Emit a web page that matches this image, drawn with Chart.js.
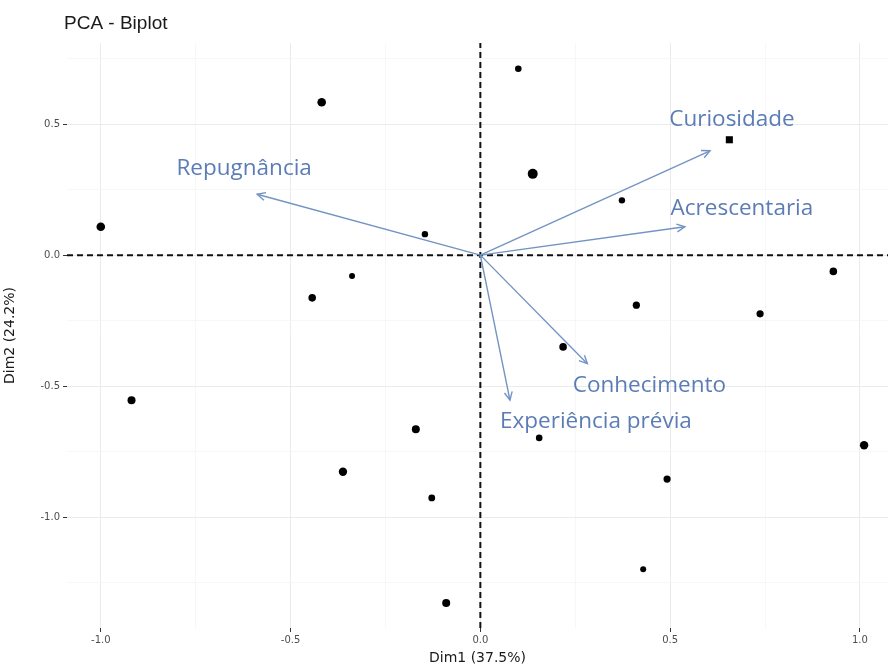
<!DOCTYPE html>
<html>
<head>
<meta charset="utf-8">
<title>PCA - Biplot</title>
<script src="https://cdn.jsdelivr.net/npm/chart.js@4/dist/chart.umd.min.js"></script>
<style>
  html, body { margin: 0; padding: 0; background: #ffffff; }
  #wrap { width: 893px; height: 669px; }
</style>
</head>
<body>
<div id="wrap"><canvas id="biplot" width="893" height="669"></canvas></div>
<script>
// Individuals: coordinates on the first two principal dimensions
const indDim1 = [-1.000, -0.418, -0.146, -0.338, -0.443, 0.100, 0.138, 0.373, 0.656, 0.930, 0.411,
                  0.737, -0.919, -0.170, -0.362, -0.128, -0.090, 0.218, 0.155, 1.011, 0.492, 0.429];
const indDim2 = [ 0.108,  0.583,  0.080, -0.080, -0.163, 0.711, 0.310, 0.209, 0.440, -0.062, -0.191,
                 -0.224, -0.553, -0.664, -0.826, -0.926, -1.327, -0.350, -0.697, -0.725, -0.854, -1.198];

// Variables: loadings drawn as arrows from the origin
const varNames = ['Curiosidade', 'Acrescentaria', 'Repugnância', 'Conhecimento', 'Experiência prévia'];
const varDim1  = [0.605, 0.539, -0.588, 0.282, 0.078];
const varDim2  = [0.398, 0.108,  0.232, -0.414, -0.553];

// Axis ticks (major ticks carry labels, minor ticks only a grid line)
const xTicks = [-1.0, -0.75, -0.5, -0.25, 0.0, 0.25, 0.5, 0.75, 1.0];
const yTicks = [-1.25, -1.0, -0.75, -0.5, -0.25, 0.0, 0.25, 0.5, 0.75];

const titleText  = 'PCA - Biplot';
const xAxisTitle = 'Dim1 (37.5%)';
const yAxisTitle = 'Dim2 (24.2%)';

// ---- styling ----
const X_MIN = -1.089, X_MAX = 1.074, Y_MIN = -1.422, Y_MAX = 0.809;
const ARROW_COLOR = '#7394c3';
const LABEL_COLOR = '#5b7cb6';
const isMajor = v => Math.abs(v * 2 - Math.round(v * 2)) < 1e-9;

// label placement relative to each arrow tip, in pixels
const labelNudge = [[22, -25], [57, -12], [-13, -19], [62, 28], [86, 28]];

const pointSizes = [4.3, 4.3, 3.2, 3.0, 3.8, 3.3, 5.0, 3.2, 5.0, 3.8, 3.6,
                    3.6, 4.0, 4.0, 4.2, 3.4, 4.0, 3.8, 3.3, 4.2, 3.6, 3.0];
const pointStyles = indDim1.map((_, i) => i === 8 ? 'rect' : 'circle');

const individuals = indDim1.map((x, i) => ({ x: x, y: indDim2[i] }));

const arrowSets = varNames.map((name, i) => ({
  type: 'line',
  label: name,
  data: [{ x: 0, y: 0 }, { x: varDim1[i], y: varDim2[i] }],
  borderColor: ARROW_COLOR,
  borderWidth: 1.4,
  pointRadius: 0,
  showLine: true,
  fill: false
}));

const refLines = [
  { type: 'line', label: 'h0', data: [{ x: X_MIN, y: 0 }, { x: X_MAX, y: 0 }] },
  { type: 'line', label: 'v0', data: [{ x: 0, y: Y_MIN }, { x: 0, y: Y_MAX }] }
].map(d => Object.assign(d, {
  borderColor: '#111111', borderWidth: 2, borderDash: [6, 4], pointRadius: 0, showLine: true, fill: false
}));

// arrowheads, variable names and the plot title
const biplotDecor = {
  id: 'biplotDecor',
  afterDatasetsDraw(chart) {
    const { ctx, scales: { x, y } } = chart;
    const ox = x.getPixelForValue(0), oy = y.getPixelForValue(0);
    ctx.save();
    varNames.forEach((name, i) => {
      const tx = x.getPixelForValue(varDim1[i]);
      const ty = y.getPixelForValue(varDim2[i]);
      const ang = Math.atan2(ty - oy, tx - ox);
      const len = 9, spread = Math.PI / 7;
      ctx.strokeStyle = ARROW_COLOR;
      ctx.lineWidth = 1.4;
      ctx.beginPath();
      ctx.moveTo(tx - len * Math.cos(ang - spread), ty - len * Math.sin(ang - spread));
      ctx.lineTo(tx, ty);
      ctx.lineTo(tx - len * Math.cos(ang + spread), ty - len * Math.sin(ang + spread));
      ctx.stroke();

      ctx.fillStyle = LABEL_COLOR;
      ctx.font = '22.5px "Open Sans"';
      ctx.textAlign = 'center';
      ctx.textBaseline = 'alphabetic';
      ctx.fillText(name, tx + labelNudge[i][0], ty + labelNudge[i][1]);
    });
    ctx.fillStyle = '#1a1a1a';
    ctx.font = '19px "Liberation Sans", Arial, sans-serif';
    ctx.textAlign = 'left';
    ctx.textBaseline = 'alphabetic';
    ctx.fillText(titleText, 64, 29);
    ctx.restore();
  }
};

new Chart(document.getElementById('biplot'), {
  type: 'scatter',
  data: {
    datasets: [
      {
        label: 'Indivíduos',
        data: individuals,
        backgroundColor: '#000000',
        borderColor: '#000000',
        borderWidth: 0,
        pointRadius: pointSizes,
        pointStyle: pointStyles
      },
      ...arrowSets,
      ...refLines
    ]
  },
  options: {
    responsive: false,
    animation: false,
    events: [],
    layout: { padding: { left: 0, right: 3, top: 43, bottom: 0 } },
    plugins: { legend: { display: false }, tooltip: { enabled: false }, title: { display: false } },
    scales: {
      x: {
        type: 'linear',
        min: X_MIN, max: X_MAX,
        afterBuildTicks: s => { s.ticks = xTicks.map(v => ({ value: v })); },
        afterFit: s => { s.height = 41; },
        border: { display: false },
        grid: {
          color: c => isMajor(c.tick.value) ? '#ebebeb' : '#f5f5f5',
          lineWidth: c => isMajor(c.tick.value) ? 1 : 0.8,
          tickColor: c => isMajor(c.tick.value) ? '#333333' : 'rgba(0,0,0,0)',
          tickLength: 4
        },
        ticks: {
          autoSkip: false, maxRotation: 0, padding: 2,
          color: '#4d4d4d',
          font: { family: '"DejaVu Sans"', size: 10 },
          callback: v => isMajor(v) ? v.toFixed(1) : ''
        },
        title: {
          display: true, text: xAxisTitle, color: '#1a1a1a',
          font: { family: '"DejaVu Sans"', size: 14 },
          padding: { top: 0, bottom: 2 }
        }
      },
      y: {
        type: 'linear',
        min: Y_MIN, max: Y_MAX,
        afterBuildTicks: s => { s.ticks = yTicks.map(v => ({ value: v })); },
        afterFit: s => { s.width = 67; },
        border: { display: false },
        grid: {
          color: c => isMajor(c.tick.value) ? '#ebebeb' : '#f5f5f5',
          lineWidth: c => isMajor(c.tick.value) ? 1 : 0.8,
          tickColor: c => isMajor(c.tick.value) ? '#333333' : 'rgba(0,0,0,0)',
          tickLength: 4
        },
        ticks: {
          autoSkip: false, padding: 3,
          color: '#4d4d4d',
          font: { family: '"DejaVu Sans"', size: 10 },
          callback: v => isMajor(v) ? v.toFixed(1) : ''
        },
        title: {
          display: true, text: yAxisTitle, color: '#1a1a1a',
          font: { family: '"DejaVu Sans"', size: 14 },
          padding: { top: 2, bottom: 0 }
        }
      }
    }
  },
  plugins: [biplotDecor]
});
</script>
</body>
</html>
